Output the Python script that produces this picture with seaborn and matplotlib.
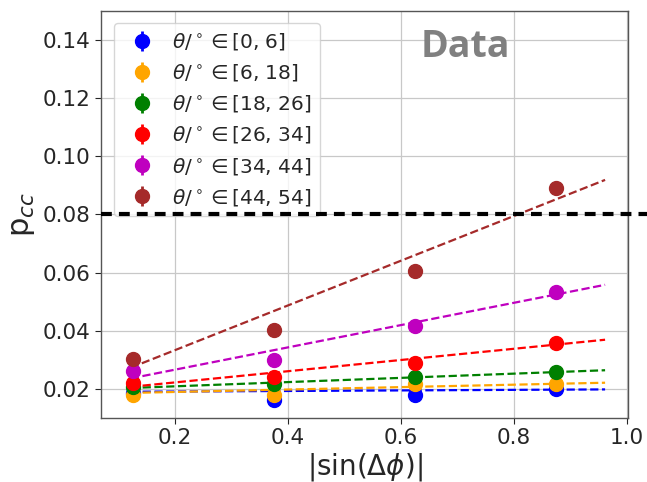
import numpy as np
import pandas as pd
import matplotlib
matplotlib.use("Agg")
import matplotlib.pyplot as plt
import seaborn as sns

# ---- data ----
x_vals = [0.125, 0.375, 0.625, 0.875]
labels = [r"$\theta/^\circ\in$[0, 6]", r"$\theta/^\circ\in$[6, 18]",
          r"$\theta/^\circ\in$[18, 26]", r"$\theta/^\circ\in$[26, 34]",
          r"$\theta/^\circ\in$[34, 44]", r"$\theta/^\circ\in$[44, 54]"]
colors = ["blue", "orange", "green", "red", "m", "brown"]

y_blue = [0.0185, 0.0163, 0.0180, 0.0198]
y_orange = [0.0180, 0.0178, 0.0215, 0.0215]
y_green = [0.0207, 0.0215, 0.0242, 0.0258]
y_red = [0.0221, 0.0242, 0.0290, 0.0357]
y_magenta = [0.0261, 0.0299, 0.0417, 0.0532]
y_brown = [0.0304, 0.0403, 0.0605, 0.0890]

e_blue = [0.0008, 0.0024, 0.0020, 0.0008]
e_orange = [0.0006, 0.0008, 0.0008, 0.0008]
e_green = [0.0006, 0.0008, 0.0008, 0.0008]
e_red = [0.0006, 0.0008, 0.0008, 0.0008]
e_magenta = [0.0008, 0.0008, 0.0008, 0.0008]
e_brown = [0.0012, 0.0015, 0.0015, 0.0015]

# fitted lines: values at x start and x end
fit_x = [0.122, 0.962]
fit_blue = [0.0190, 0.0198]
fit_orange = [0.0186, 0.0221]
fit_green = [0.0203, 0.0264]
fit_red = [0.0207, 0.0369]
fit_magenta = [0.0236, 0.0558]
fit_brown = [0.0273, 0.0919]

threshold = 0.08
y_ticks = [0.02, 0.04, 0.06, 0.08, 0.10, 0.12, 0.14]
x_ticks = [0.2, 0.4, 0.6, 0.8, 1.0]

ys = [y_blue, y_orange, y_green, y_red, y_magenta, y_brown]
es = [e_blue, e_orange, e_green, e_red, e_magenta, e_brown]
fits = [fit_blue, fit_orange, fit_green, fit_red, fit_magenta, fit_brown]

fit_df = pd.DataFrame({
    "x": np.tile(fit_x, len(labels)),
    "y": np.concatenate(fits),
    "series": np.repeat(labels, len(fit_x)),
})

sns.set_style("white")
plt.rcParams["font.family"] = ["DejaVu Sans"]

fig = plt.figure(figsize=(6.47, 4.82), dpi=100)
ax = fig.add_axes([0.156, 0.133, 0.815, 0.844])

ax.grid(True, color="#c8c8c8", linewidth=0.9, zorder=0)
ax.set_axisbelow(True)

sns.lineplot(data=fit_df, x="x", y="y", hue="series", palette=dict(zip(labels, colors)),
             linestyle="--", linewidth=1.6, legend=False, ax=ax, sort=False)

for lab, c, y, e in zip(labels, colors, ys, es):
    ax.errorbar(x_vals, y, yerr=e, fmt="o", color=c, markersize=10,
                elinewidth=2, capsize=0, label=lab, zorder=3)

ax.plot([0, 1.04], [threshold, threshold], transform=ax.get_yaxis_transform(),
        color="black", linestyle=(0, (2.6, 1.7)), linewidth=3, clip_on=False, zorder=6)

ax.text(0.607, 0.912, "Data", transform=ax.transAxes, fontsize=27, fontweight="bold",
        color="gray", family="Open Sans", ha="left", va="center", zorder=1)

ax.set_xlim(0.069, 1.003)
ax.set_ylim(0.01, 0.15)
ax.set_xticks(x_ticks)
ax.set_yticks(y_ticks)
ax.set_xticklabels(["0.2", "0.4", "0.6", "0.8", "1.0"])
ax.set_yticklabels(["0.02", "0.04", "0.06", "0.08", "0.10", "0.12", "0.14"])
ax.tick_params(axis="both", labelsize=15.5, length=4, direction="out", left=True, bottom=True)
for s in ax.spines.values():
    s.set_color("#555555")
    s.set_linewidth(1.0)

ax.set_xlabel(r"|sin($\Delta\phi$)|", fontsize=20, labelpad=2)
ax.set_ylabel(r"p$_{cc}$", fontsize=22, labelpad=4)

leg = ax.legend(loc="upper left", fontsize=14.5, frameon=True, framealpha=0.8,
                handletextpad=0.5, handlelength=2.0, borderpad=0.4, labelspacing=0.5,
                bbox_to_anchor=(0.005, 0.995))
leg.set_zorder(5)

fig.savefig("out.png", dpi=100)
